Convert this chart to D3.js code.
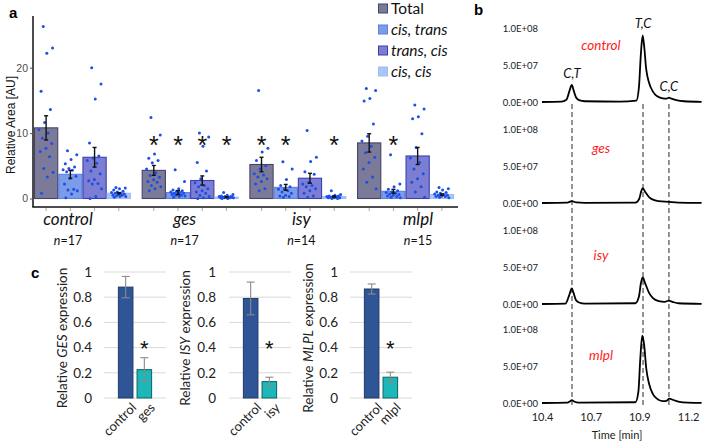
<!DOCTYPE html>
<html><head><meta charset="utf-8">
<script src="https://cdn.jsdelivr.net/npm/d3@7"></script>
<style>body{margin:0;background:#fff}svg{display:block}</style>
</head><body>
<svg id="chart" width="709" height="441"></svg>
<script>
// ---------------- panel a data ----------------
const groups = ["control","ges","isy","mlpl"];
const groupN = ["17","17","14","15"];
const isomers = ["Total","cis, trans","trans, cis","cis, cis"];
const meanTotal    = [10.8, 4.3, 5.2, 8.5];
const meanCisTrans = [3.7, 0.9, 1.7, 1.1];
const meanTransCis = [6.3, 2.75, 3.1, 6.5];
const meanCisCis   = [0.8, 0.2, 0.3, 0.6];
const seTotal    = [1.85, 0.75, 1.1, 1.4];
const seCisTrans = [0.6, 0.3, 0.45, 0.3];
const seTransCis = [1.5, 0.7, 0.75, 1.3];
const seCisCis   = [0.1, 0.05, 0.08, 0.1];
const sigTotal    = [0,1,1,0];
const sigCisTrans = [0,1,1,1];
const sigTransCis = [0,1,0,0];
const sigCisCis   = [0,1,1,0];
const ptsControlTotal    = [26.3,23.0,22.2,16.4,13.6,11.6,10.5,10.0,9.2,8.4,7.7,7.2,6.4,4.6,4.0,3.3,0.8];
const ptsControlCisTrans = [7.3,6.7,5.95,5.3,4.8,4.6,4.4,4.3,4.1,3.4,3.05,2.2,1.4,1.3,1.2,0.7,0.1];
const ptsControlTransCis = [20.0,17.5,15.2,8.5,6.5,6.2,5.8,5.4,4.2,3.8,2.9,2.7,2.3,2.2,1.5,0.3,0.0];
const ptsControlCisCis   = [1.7,1.6,1.5,1.3,1.1,1.0,0.9,0.8,0.8,0.7,0.6,0.5,0.5,0.4,0.3,0.3,0.2];
const ptsGesTotal    = [12.4,9.7,6.8,6.15,5.8,5.45,4.5,3.95,3.5,3.25,2.85,2.6,2.5,2.0,1.8,1.5,1.2];
const ptsGesCisTrans = [4.4,2.6,1.5,1.3,1.2,1.1,1.0,0.9,0.8,0.8,0.7,0.6,0.5,0.5,0.4,0.3,0.2];
const ptsGesTransCis = [10.0,9.4,8.0,5.5,4.2,3.0,2.4,2.0,1.8,1.5,1.2,1.0,0.8,0.5,0.3,0.1,0.0];
const ptsGesCisCis   = [0.9,0.6,0.5,0.4,0.3,0.3,0.3,0.2,0.2,0.2,0.2,0.1,0.1,0.1,0.1,0.0,0.0];
const ptsIsyTotal    = [16.5,7.7,7.1,5.8,5.0,4.5,3.8,3.6,3.3,3.0,2.6,2.2,1.5,1.2];
const ptsIsyCisTrans = [5.6,4.5,2.9,2.0,1.8,1.5,1.4,1.2,1.0,0.8,0.5,0.4,0.3,0.2];
const ptsIsyTransCis = [10.4,6.3,5.65,4.1,3.7,2.4,2.2,2.0,1.8,1.5,1.2,0.8,0.4,0.2];
const ptsIsyCisCis   = [1.2,0.6,0.5,0.4,0.4,0.3,0.3,0.2,0.2,0.1,0.1,0.1,0.0,0.0];
const ptsMlplTotal    = [16.8,16.5,15.3,14.9,11.4,9.5,8.8,8.0,7.0,6.3,5.5,4.5,3.3,2.5,1.5];
const ptsMlplCisTrans = [6.7,2.2,1.8,1.4,1.2,1.0,0.9,0.8,0.7,0.6,0.5,0.4,0.3,0.2,0.1];
const ptsMlplTransCis = [14.3,13.7,12.5,12.2,9.9,7.8,6.2,5.5,4.5,3.8,3.0,2.5,1.8,1.0,0.2];
const ptsMlplCisCis   = [1.7,1.5,1.3,1.0,0.9,0.8,0.7,0.6,0.5,0.5,0.4,0.3,0.3,0.2,0.1];
const areaTicks = [0,10,20];

// ---------------- panel b data ----------------
const peakTimes  = [10.554, 10.919, 11.052];
const peakLabels = ["C,T","T,C","C,C"];
const sampleNames = ["control","ges","isy","mlpl"];
const timeTicks = [10.4, 10.65, 10.9, 11.15];
const timeTickLabels = ["10.4","10.7","10.9","11.2"];
const intensityTicks = [0, 5e7, 1e8];
const intensityLabels = ["0.0E+00","5.0E+07","1.0E+08"];
const traceControl = [[10.40,0],[10.50,0.05e7],[10.525,0.3e7],[10.54,1.4e7],[10.553,2.3e7],[10.562,1.6e7],[10.575,0.6e7],[10.59,0.25e7],[10.62,0.1e7],[10.80,0.05e7],[10.885,0.2e7],[10.898,2e7],[10.908,6.5e7],[10.917,9.0e7],[10.925,7.5e7],[10.935,4.5e7],[10.95,2.6e7],[10.97,1.4e7],[10.99,0.8e7],[11.02,0.5e7],[11.04,0.45e7],[11.052,0.6e7],[11.065,0.45e7],[11.09,0.25e7],[11.13,0.1e7],[11.22,0.03e7]];
const traceGes = [[10.40,0],[10.53,0.05e7],[10.553,0.25e7],[10.575,0.08e7],[10.62,0.02e7],[10.88,0.05e7],[10.90,0.6e7],[10.91,1.6e7],[10.918,2.0e7],[10.93,1.5e7],[10.95,0.8e7],[10.97,0.45e7],[11.0,0.25e7],[11.05,0.15e7],[11.1,0.05e7],[11.22,0.02e7]];
const traceIsy = [[10.40,0],[10.52,0.05e7],[10.54,1.2e7],[10.553,2.1e7],[10.562,1.5e7],[10.575,0.5e7],[10.59,0.2e7],[10.62,0.05e7],[10.88,0.1e7],[10.898,1e7],[10.908,2.8e7],[10.917,3.6e7],[10.93,2.8e7],[10.95,1.5e7],[10.97,0.8e7],[11.0,0.4e7],[11.03,0.3e7],[11.052,0.45e7],[11.07,0.3e7],[11.1,0.1e7],[11.22,0.02e7]];
const traceMlpl = [[10.40,0],[10.53,0.05e7],[10.545,0.25e7],[10.553,0.4e7],[10.565,0.2e7],[10.59,0.05e7],[10.88,0.1e7],[10.895,1.5e7],[10.905,6.0e7],[10.915,9.1e7],[10.925,7.8e7],[10.935,4.8e7],[10.95,2.6e7],[10.97,1.2e7],[10.99,0.6e7],[11.02,0.25e7],[11.04,0.3e7],[11.055,0.6e7],[11.07,0.45e7],[11.1,0.2e7],[11.15,0.05e7],[11.22,0.02e7]];

// ---------------- panel c data ----------------
const qpcrGenes = ["GES","ISY","MLPL"];
const qpcrLines = ["ges","isy","mlpl"];
const qpcrControl    = [0.88, 0.79, 0.865];
const qpcrControlErr = [0.085, 0.13, 0.04];
const qpcrKnock      = [0.225, 0.13, 0.165];
const qpcrKnockErr   = [0.095, 0.035, 0.04];
const qpcrTicks = [0,0.2,0.4,0.6,0.8,1];
const qpcrTickLabels = ["0","0.2","0.4","0.6","0.8","1"];

// ================= drawing =================
const svg = d3.select("#chart");
svg.append("rect").attr("width",709).attr("height",441).attr("fill","#fff");
const CAL = "Lato, 'Open Sans', sans-serif";
const ARI = "'Liberation Sans', Arial, sans-serif";

// ---- panel a ----
const means = [meanTotal, meanCisTrans, meanTransCis, meanCisCis];
const ses = [seTotal, seCisTrans, seTransCis, seCisCis];
const sigs = [sigTotal, sigCisTrans, sigTransCis, sigCisCis];
const pts = [
  [ptsControlTotal, ptsControlCisTrans, ptsControlTransCis, ptsControlCisCis],
  [ptsGesTotal, ptsGesCisTrans, ptsGesTransCis, ptsGesCisCis],
  [ptsIsyTotal, ptsIsyCisTrans, ptsIsyTransCis, ptsIsyCisCis],
  [ptsMlplTotal, ptsMlplCisTrans, ptsMlplTransCis, ptsMlplCisCis]];
const fills = ["#7b7a98","#7c9be8","#7b7ed3","#a9c6f7"];
const strokes = ["#45456a","#5c7fe0","#3c3fb2","#9dbcf4"];

const x0 = d3.scaleBand().domain(groups).range([34,454]).paddingInner(0.1);
const x1 = d3.scaleBand().domain(isomers).range([0, x0.bandwidth()]);
const yA = d3.scaleLinear().domain([-1.3, 27.9]).range([207, 16]);

const gA = svg.append("g");
const barData = [];
groups.forEach((g,gi)=>isomers.forEach((iso,ii)=>barData.push({g,gi,iso,ii,v:means[ii][gi],se:ses[ii][gi],sig:sigs[ii][gi],pts:pts[gi][ii]})));

gA.selectAll("rect.bar").data(barData).join("rect")
  .attr("x", d=>x0(d.g)+x1(d.iso)+0.5)
  .attr("y", d=>yA(d.v))
  .attr("width", x1.bandwidth()-1)
  .attr("height", d=>yA(0)-yA(d.v))
  .attr("fill", d=>fills[d.ii]).attr("stroke", d=>strokes[d.ii]).attr("stroke-width",1.1);

// points
barData.forEach(d=>{
  const cx = x0(d.g)+x1(d.iso)+x1.bandwidth()/2;
  gA.selectAll(null).data(d.pts).join("circle")
    .attr("cx",(v,i)=>cx + (((i*0.618034+0.31)%1)-0.5)*0.62*x1.bandwidth())
    .attr("cy",v=>yA(v)).attr("r",1.5).attr("fill","#1d4fe6");
});
// error bars
barData.forEach(d=>{
  const cx = x0(d.g)+x1(d.iso)+x1.bandwidth()/2;
  const e = gA.append("g").attr("stroke","#111").attr("stroke-width",1.4);
  e.append("line").attr("x1",cx).attr("x2",cx).attr("y1",yA(d.v+d.se)).attr("y2",yA(d.v-d.se));
  e.append("line").attr("x1",cx-2).attr("x2",cx+2).attr("y1",yA(d.v+d.se)).attr("y2",yA(d.v+d.se));
  e.append("line").attr("x1",cx-2).attr("x2",cx+2).attr("y1",yA(d.v-d.se)).attr("y2",yA(d.v-d.se));
  if(d.sig){
    gA.append("text").attr("x",cx).attr("y",yA(8.8)+13).attr("text-anchor","middle")
      .attr("font-family",ARI).attr("font-size",25).attr("fill","#111").text("*");
  }
});
// axes
gA.append("line").attr("x1",33).attr("x2",33).attr("y1",16).attr("y2",207).attr("stroke","#111").attr("stroke-width",1.5);
gA.append("line").attr("x1",32.3).attr("x2",458).attr("y1",207).attr("y2",207).attr("stroke","#111").attr("stroke-width",1.5);
const yAxA = gA.append("g").attr("transform","translate(33,0)")
  .call(d3.axisLeft(yA).tickValues(areaTicks).tickSize(3).tickPadding(2));
yAxA.select(".domain").remove();
yAxA.selectAll("line").attr("stroke","#555");
yAxA.selectAll("text").attr("font-family",ARI).attr("font-size",10.5).attr("fill","#4d4d4d");
barData.forEach(d=>{
  const cx = x0(d.g)+x1(d.iso)+x1.bandwidth()/2;
  gA.append("line").attr("x1",cx).attr("x2",cx).attr("y1",208).attr("y2",211).attr("stroke","#aaa");
});
gA.append("text").attr("transform","translate(15,125) rotate(-90)").attr("text-anchor","middle")
  .attr("font-family",ARI).attr("font-size",12).attr("fill","#111").text("Relative Area [AU]");
const xLab = d3.scalePoint().domain(groups).range([68,418]);
groups.forEach((g,gi)=>{
  gA.append("text").attr("x",xLab(g)).attr("y",225).attr("text-anchor","middle")
    .attr("font-family",CAL).attr("font-style","italic").attr("font-size",17).attr("fill","#111").text(g);
  const t = gA.append("text").attr("x",xLab(g)).attr("y",245).attr("text-anchor","middle")
    .attr("font-family",CAL).attr("font-size",12.5).attr("fill","#111");
  t.append("tspan").attr("font-style","italic").text("n");
  t.append("tspan").text("="+groupN[gi]);
});
gA.append("text").attr("x",9).attr("y",18).attr("font-family",ARI).attr("font-weight","bold").attr("font-size",15).text("a");
// legend
isomers.forEach((iso,i)=>{
  const cy = 8.5 + i*21;
  gA.append("rect").attr("x",378.5).attr("y",cy-4.5).attr("width",9).attr("height",9)
    .attr("fill",fills[i]).attr("stroke",strokes[i]).attr("stroke-width",1);
  gA.append("text").attr("x",391).attr("y",cy).attr("dy","0.35em")
    .attr("font-family",CAL).attr("font-size",15.5).attr("font-style", i===0?"normal":"italic")
    .attr("fill","#111").text(iso);
});

// ---- panel b ----
const gB = svg.append("g");
const xB = d3.scaleLinear().domain([10.4, 11.15]).range([542, 688]);
const zeros = [102, 203, 304, 403];
const traces = [traceControl, traceGes, traceIsy, traceMlpl];
gB.append("text").attr("x",474).attr("y",15).attr("font-family",ARI).attr("font-weight","bold").attr("font-size",15).text("b");
// dashed lines
peakTimes.forEach(t=>{
  gB.append("line").attr("x1",xB(t)).attr("x2",xB(t)).attr("y1",104).attr("y2",406)
    .attr("stroke","#7a7a7a").attr("stroke-width",1.6).attr("stroke-dasharray","5,3");
});
const labelY = [45, 148, 255, 355];
traces.forEach((tr,i)=>{
  const yB = d3.scaleLinear().domain([0,1e8]).range([zeros[i], zeros[i]-74]);
  const ax = gB.append("g").attr("transform","translate(540,0)")
    .call(d3.axisLeft(yB).tickValues(intensityTicks).tickSize(0).tickPadding(2).tickFormat((d,k)=>intensityLabels[k]));
  ax.select(".domain").remove();
  ax.selectAll("text").attr("font-family",CAL).attr("font-size",9.5).attr("fill","#222");
  const line = d3.line().x(d=>xB(d[0])).y(d=>yB(d[1])).curve(d3.curveMonotoneX);
  gB.append("path").datum(tr).attr("d",line).attr("fill","none").attr("stroke","#000").attr("stroke-width",1.8).attr("stroke-linejoin","round");
  gB.append("text").attr("x",601).attr("y",labelY[i]).attr("dy","0.35em").attr("text-anchor","middle")
    .attr("font-family",CAL).attr("font-style","italic").attr("font-size",13.5).attr("fill","#ff1a1a").text(sampleNames[i]);
  if(i===0){
    peakLabels.forEach((pl,k)=>{
      const t = peakTimes[k];
      const near = tr.reduce((a,b)=>Math.abs(b[0]-t)<Math.abs(a[0]-t)?b:a);
      gB.append("text").attr("x",xB(t)).attr("y",yB(near[1])-7).attr("text-anchor","middle")
        .attr("font-family",CAL).attr("font-style","italic").attr("font-size",13).attr("fill","#111").text(pl);
    });
  }
});
const xAxB = gB.append("g").attr("transform","translate(0,411)")
  .call(d3.axisBottom(xB).tickValues(timeTicks).tickSize(0).tickPadding(2).tickFormat((d,k)=>timeTickLabels[k]));
xAxB.select(".domain").remove();
xAxB.selectAll("text").attr("font-family",CAL).attr("font-size",11).attr("fill","#222");
gB.append("text").attr("x",617).attr("y",439).attr("text-anchor","middle")
  .attr("font-family",CAL).attr("font-size",11).attr("fill","#222").text("Time [min]");

// ---- panel c ----
const gC = svg.append("g");
gC.append("text").attr("x",31).attr("y",278).attr("font-family",ARI).attr("font-weight","bold").attr("font-size",15).text("c");
const yC = d3.scaleLinear().domain([0,1]).range([398,272]);
const chartStarts = [104, 229, 350];
const tickRight = [92, 216, 338];
const titleX = [62, 185, 308];
qpcrGenes.forEach((gene,i)=>{
  const x = d3.scaleBand().domain(["control", qpcrLines[i]]).range([chartStarts[i], chartStarts[i]+62]).paddingInner(0.22).paddingOuter(0.77);
  const g = gC.append("g");
  qpcrTicks.forEach((t,k)=>{
    g.append("line").attr("x1",chartStarts[i]).attr("x2",chartStarts[i]+62).attr("y1",yC(t)).attr("y2",yC(t))
      .attr("stroke","#d9d9d9").attr("stroke-width",1);
    g.append("text").attr("x",tickRight[i]).attr("y",yC(t)).attr("dy","0.35em").attr("text-anchor","end")
      .attr("font-family",CAL).attr("font-size",13.5).attr("fill","#222").text(qpcrTickLabels[k]);
  });
  const bars = [{k:"control",v:qpcrControl[i],e:qpcrControlErr[i],f:"#2f5597",s:"#1f3864"},
                {k:qpcrLines[i],v:qpcrKnock[i],e:qpcrKnockErr[i],f:"#1bb7b9",s:"#0e6063"}];
  bars.forEach(b=>{
    g.append("rect").attr("x",x(b.k)).attr("y",yC(b.v)).attr("width",x.bandwidth()).attr("height",yC(0)-yC(b.v))
      .attr("fill",b.f).attr("stroke",b.s).attr("stroke-width",1);
    const cx = x(b.k)+x.bandwidth()/2;
    const eg = g.append("g").attr("stroke","#8a8a8a").attr("stroke-width",1.1);
    eg.append("line").attr("x1",cx).attr("x2",cx).attr("y1",yC(b.v+b.e)).attr("y2",yC(b.v-b.e));
    eg.append("line").attr("x1",cx-4).attr("x2",cx+4).attr("y1",yC(b.v+b.e)).attr("y2",yC(b.v+b.e));
    eg.append("line").attr("x1",cx-4).attr("x2",cx+4).attr("y1",yC(b.v-b.e)).attr("y2",yC(b.v-b.e));
    g.append("text").attr("transform",`translate(${cx+5},${402}) rotate(-45)`).attr("text-anchor","end")
      .attr("dy","0.7em").attr("font-family",CAL).attr("font-size",13).attr("fill","#222").text(b.k);
  });
  const kx = x(qpcrLines[i])+x.bandwidth()/2;
  g.append("text").attr("x",kx).attr("y",yC(0.43)+12).attr("text-anchor","middle")
    .attr("font-family",ARI).attr("font-size",22).attr("fill","#111").text("*");
  const tt = g.append("text").attr("transform",`translate(${titleX[i]+5},338) rotate(-90)`).attr("text-anchor","middle")
    .attr("font-family",CAL).attr("font-size",13.5).attr("fill","#222");
  tt.append("tspan").text("Relative ");
  tt.append("tspan").attr("font-style","italic").text(gene);
  tt.append("tspan").text(" expression");
});
</script>
</body></html>
